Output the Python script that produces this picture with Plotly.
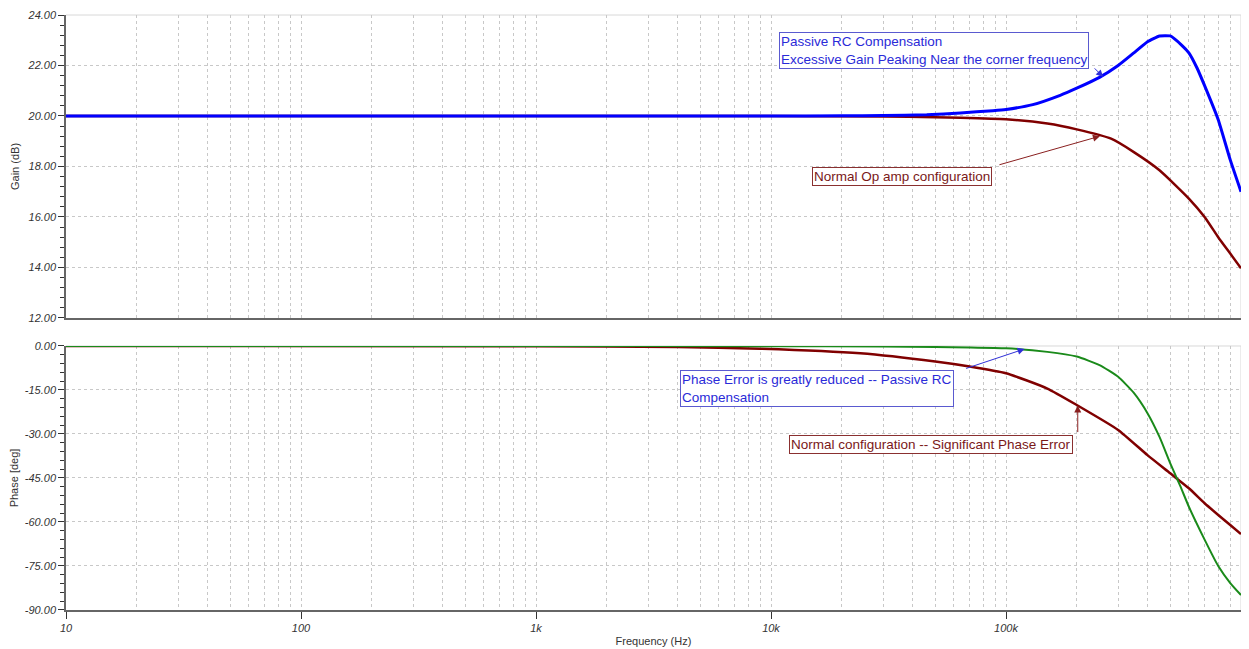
import numpy as np
import plotly.graph_objects as go

# ---------------- data ----------------
gain_rc_f = [10, 1e3, 1e4, 2e4, 3e4, 4.6e4, 6.4e4, 8.8e4, 1e5, 1.3e5, 1.7e5, 2e5, 2.5e5,
             3e5, 3.5e5, 4e5, 4.5e5, 5e5, 5.6e5, 6e5, 6.5e5, 7e5, 8e5, 9e5, 1e6]
gain_rc = [20.0, 20.0, 20.0, 20.01, 20.02, 20.05, 20.12, 20.21, 20.26, 20.45, 20.82, 21.1, 21.53,
           22.0, 22.5, 22.94, 23.17, 23.17, 22.8, 22.5, 21.9, 21.2, 19.85, 18.26, 17.0]

gain_norm_f = [10, 1e3, 1e4, 3e4, 5e4, 6.4e4, 1e5, 1.5e5, 2e5, 2.8e5, 3.5e5, 4.5e5, 6e5,
               7e5, 8e5, 9e5, 1e6]
gain_norm = [20.0, 20.0, 20.0, 19.98, 19.95, 19.93, 19.87, 19.7, 19.47, 19.1, 18.57, 17.85, 16.73,
             16.0, 15.2, 14.55, 13.97]

phase_rc_f = [10, 1e3, 1e4, 3e4, 5e4, 7e4, 1e5, 1.5e5, 2e5, 2.5e5, 3e5, 3.5e5, 4e5, 4.5e5,
              5e5, 5.5e5, 6e5, 7e5, 8e5, 9e5, 1e6]
phase_rc = [0.0, 0.0, -0.05, -0.2, -0.35, -0.5, -0.8, -2.0, -3.6, -6.5, -10.5, -16.0, -22.9, -31.0,
            -40.0, -47.5, -54.8, -66.0, -75.0, -80.8, -84.9]

phase_norm_f = [10, 1e3, 4e3, 9e3, 2.4e4, 5e4, 7e4, 1e5, 1.5e5, 2e5, 3e5, 4e5, 5e5, 6e5,
                7e5, 8e5, 9e5, 1e6]
phase_norm = [0.0, -0.1, -0.3, -0.9, -2.5, -5.3, -7.0, -9.3, -14.5, -20.1, -28.6, -37.2, -43.4, -48.5,
              -53.6, -57.6, -61.0, -64.1]

x_tick_vals = [10, 100, 1e3, 1e4, 1e5, 1e6]
x_tick_text = ["10", "100", "1k", "10k", "100k", "1M"]
x_minor_vals = [m * d for d in [10, 100, 1e3, 1e4, 1e5] for m in range(2, 10)]

gain_tick_vals = [12, 14, 16, 18, 20, 22, 24]
gain_tick_text = ["12.00", "14.00", "16.00", "18.00", "20.00", "22.00", "24.00"]
phase_tick_vals = [0, -15, -30, -45, -60, -75, -90]
phase_tick_text = ["0.00", "-15.00", "-30.00", "-45.00", "-60.00", "-75.00", "-90.00"]

# ---------------- styles ----------------
BLUE = "#0000ff"
DRED = "#800000"
GREEN = "#1a8a1a"
GRID = "#c8c8c8"
AXIS = "#666666"
FONT = "Liberation Sans, Arial, sans-serif"
tickfont = dict(family=FONT, size=11, color="#333333", style="italic")
titlefont = dict(family=FONT, size=11, color="#333333")

fig = go.Figure()
fig.add_trace(go.Scatter(x=phase_norm_f, y=phase_norm, mode="lines", xaxis="x2", yaxis="y2",
                         line=dict(color=DRED, width=2.5, shape="spline", smoothing=0.5)))
fig.add_trace(go.Scatter(x=phase_rc_f, y=phase_rc, mode="lines", xaxis="x2", yaxis="y2",
                         line=dict(color=GREEN, width=2, shape="spline", smoothing=0.5)))
fig.add_trace(go.Scatter(x=gain_norm_f, y=gain_norm, mode="lines", xaxis="x", yaxis="y",
                         line=dict(color=DRED, width=2.5, shape="spline", smoothing=0.5)))
fig.add_trace(go.Scatter(x=gain_rc_f, y=gain_rc, mode="lines", xaxis="x", yaxis="y",
                         line=dict(color=BLUE, width=3, shape="spline", smoothing=0.4)))

xcommon = dict(type="log", range=[1, 6], tickmode="array", tickvals=x_tick_vals,
               showgrid=True, gridcolor=GRID, griddash="3px,3px", gridwidth=1,
               showline=True, linecolor=AXIS, linewidth=1.5, zeroline=False, automargin=False,
               minor=dict(tickmode="array", tickvals=x_minor_vals, showgrid=True,
                          gridcolor=GRID, griddash="3px,3px", gridwidth=1))

# the page adds an 8px body margin, so the figure is 8px smaller than the window
fig.update_layout(
    width=1241, height=641,
    margin=dict(l=58, r=8, t=7, b=39, autoexpand=False),
    paper_bgcolor="white", plot_bgcolor="white",
    showlegend=False,
    xaxis=dict(**xcommon, domain=[0, 1], anchor="y", matches="x2",
               showticklabels=False, ticks=""),
    xaxis2=dict(**xcommon, domain=[0, 1], anchor="y2",
                ticktext=x_tick_text, ticks="outside", ticklen=7, tickcolor="#333333",
                tickfont=tickfont,
                title=dict(text="Frequency (Hz)", font=titlefont, standoff=4)),
    yaxis=dict(domain=[0.4908, 1.0], anchor="x", range=[12, 24], automargin=False,
               tickmode="array", tickvals=gain_tick_vals, ticktext=gain_tick_text,
               ticks="outside", ticklen=6, tickcolor="#333333", tickfont=tickfont,
               showgrid=True, gridcolor=GRID, griddash="3px,3px", zeroline=False,
               showline=True, linecolor=AXIS, linewidth=1.5,
               minor=dict(dtick=0.4, ticks="outside", ticklen=4, tickcolor="#333333", showgrid=False),
               title=dict(text="Gain (dB)", font=titlefont, standoff=6)),
    yaxis2=dict(domain=[0, 0.4437], anchor="x2", range=[-90, 0], automargin=False,
                tickmode="array", tickvals=phase_tick_vals, ticktext=phase_tick_text,
                ticks="outside", ticklen=6, tickcolor="#333333", tickfont=tickfont,
                showgrid=True, gridcolor=GRID, griddash="3px,3px", zeroline=False,
                showline=True, linecolor=AXIS, linewidth=1.5,
                minor=dict(dtick=3, ticks="outside", ticklen=4, tickcolor="#333333", showgrid=False),
                title=dict(text="Phase [deg]", font=titlefont, standoff=4)),
)

# light frame on top and right edges
for xr, yr in [("x domain", "y domain"), ("x2 domain", "y2 domain")]:
    fig.add_shape(type="line", xref=xr, yref=yr, x0=0, x1=1, y0=1, y1=1,
                  line=dict(color="#d8d8d8", width=1), layer="below")
    fig.add_shape(type="line", xref=xr, yref=yr, x0=1, x1=1, y0=0, y1=1,
                  line=dict(color="#d8d8d8", width=1), layer="below")

afont_b = dict(family=FONT, size=13.5, color="#2a2ad8")
afont_r = dict(family=FONT, size=13.5, color="#7a1818")

# text boxes
boxes = [
    ("Passive RC Compensation<br>Excessive Gain Peaking Near the corner frequency",
     0.6068, 0.9714, afont_b, "#5a5ad0"),
    ("Normal Op amp configuration", 0.6349, 0.7445, afont_r, "#8a3030"),
    ("Phase Error is greatly reduced -- Passive RC<br>Compensation", 0.5226, 0.4034, afont_b, "#5a5ad0"),
    ("Normal configuration -- Significant Phase Error", 0.6153, 0.2941, afont_r, "#8a3030"),
]
for txt, xp, yp, fnt, bc in boxes:
    fig.add_annotation(text=txt, xref="paper", yref="paper", x=xp, y=yp,
                       xanchor="left", yanchor="top", align="left", showarrow=False,
                       font=fnt, bgcolor="white", bordercolor=bc, borderwidth=1, borderpad=1)

# arrows (head on curve, tail offset in pixels)
arrows = [
    ("x", "y", 2.59e5, 21.55, -10, -10, "#3030d8"),
    ("x", "y", 2.51e5, 19.2, -102, 29, "#8a2020"),
    ("x2", "y2", 1.2e5, -1.0, -60, 20, "#3030d8"),
    ("x2", "y2", 2.02e5, -20.3, 0, 28, "#8a2020"),
]
for xr, yr, fx, yv, ax, ay, c in arrows:
    fig.add_annotation(text="", xref=xr, yref=yr, x=np.log10(fx), y=yv,
                       axref="pixel", ayref="pixel", ax=ax, ay=ay, showarrow=True,
                       arrowhead=2, arrowsize=1.4, arrowwidth=1, arrowcolor=c)

fig.write_html("out.html")
